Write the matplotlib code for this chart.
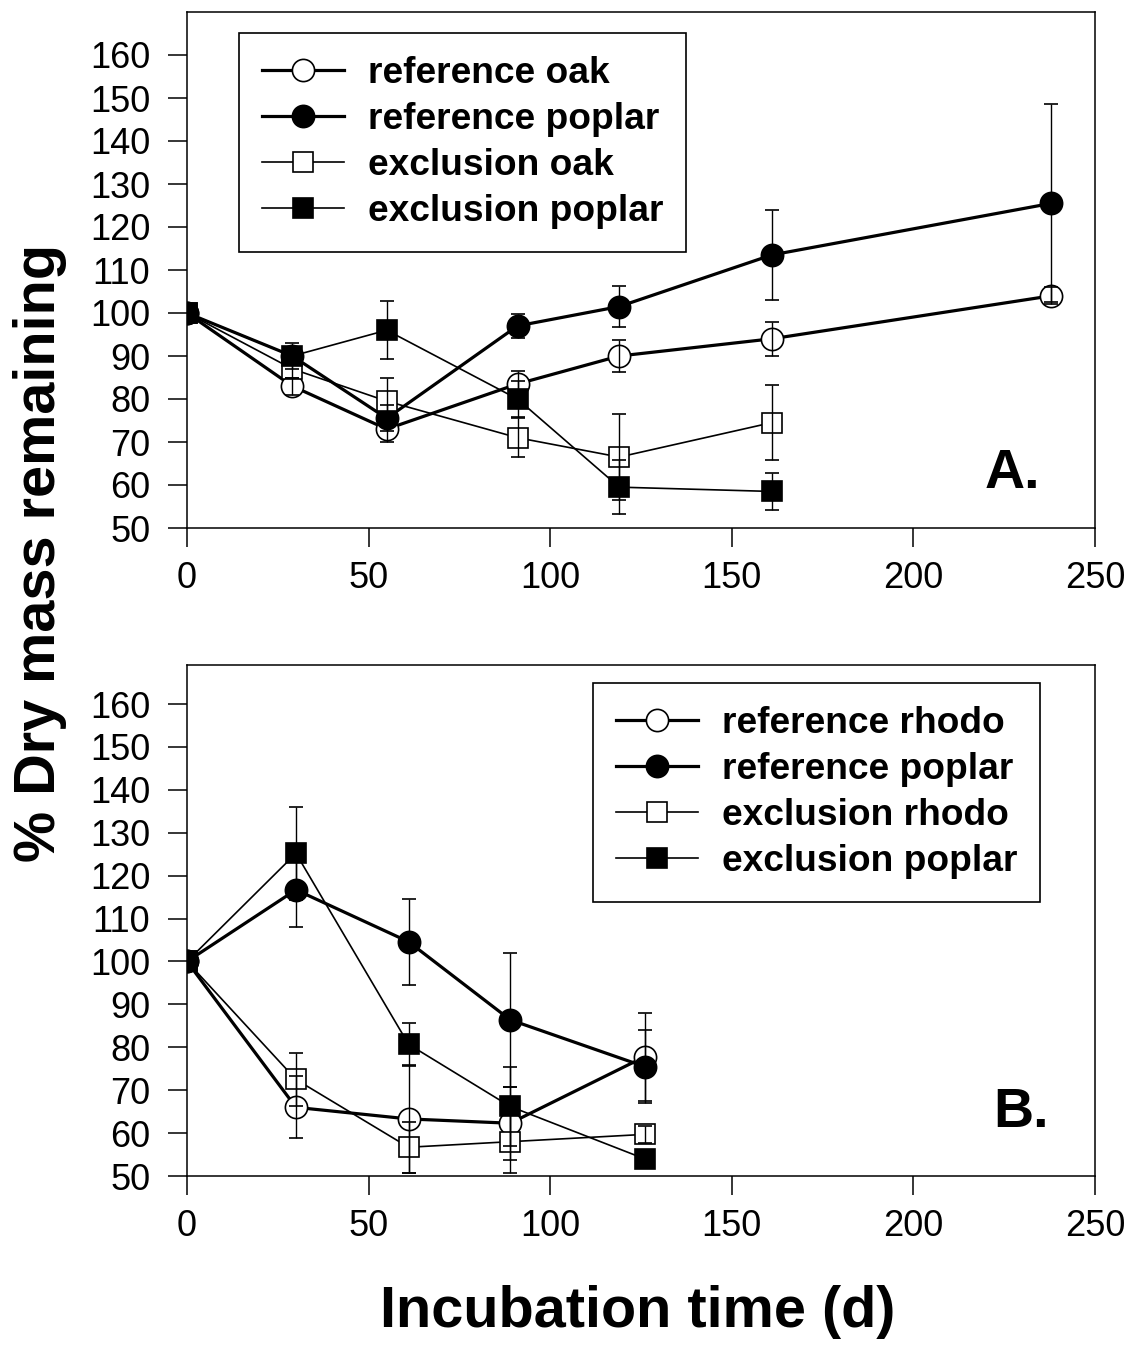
import numpy as np
import matplotlib
matplotlib.use("Agg")
import matplotlib.pyplot as plt

plt.rcParams['font.family'] = ['Liberation Sans', 'DejaVu Sans']

# ---- Panel A: oak vs poplar litter ----
days_a_ref = [0, 29, 55, 91, 119, 161, 238]
ref_oak = [100, 83, 73, 83.5, 90, 94, 104]
ref_oak_err = [0, 2, 3, 3, 3.7, 4, 2]
ref_poplar_a = [100, 90, 75.5, 97, 101.5, 113.5, 125.5]
ref_poplar_a_err = [0, 3, 3, 2.7, 4.7, 10.5, 23]

days_a_excl = [0, 29, 55, 91, 119, 161]
excl_oak = [100, 87, 79.5, 71, 66.5, 74.5]
excl_oak_err = [0, 2, 5.3, 4.5, 10, 8.8]
excl_poplar_a = [100, 90, 96, 80, 59.5, 58.5]
excl_poplar_a_err = [0, 2, 6.8, 4.2, 6.3, 4.2]

labels_a = ["reference oak", "reference poplar", "exclusion oak", "exclusion poplar"]

# ---- Panel B: rhododendron vs poplar litter ----
days_b = [0, 30, 61, 89, 126]
ref_rhodo = [100, 66, 63.3, 62.3, 77.8]
ref_rhodo_err = [0, 7.2, 12.5, 8.5, 10.3]
ref_poplar_b = [100, 116.7, 104.6, 86.4, 75.5]
ref_poplar_b_err = [0, 8.6, 10, 15.6, 8.5]
excl_rhodo = [100, 72.5, 56.7, 58, 59.7]
excl_rhodo_err = [0, 6.2, 6, 7.2, 2]
excl_poplar_b = [100, 125.2, 80.7, 66.2, 54]
excl_poplar_b_err = [0, 10.9, 5, 9.1, 2]

labels_b = ["reference rhodo", "reference poplar", "exclusion rhodo", "exclusion poplar"]

y_ticks = [50, 60, 70, 80, 90, 100, 110, 120, 130, 140, 150, 160]
x_ticks = [0, 50, 100, 150, 200, 250]

W, H = 1131, 1346
fig = plt.figure(figsize=(W / 100, H / 100), dpi=100)
fig.patch.set_facecolor("white")

axA = fig.add_axes([187 / W, 1 - 528 / H, 908 / W, 516 / H])
axB = fig.add_axes([187 / W, 1 - 1176 / H, 908 / W, 511 / H])

STYLES = [
    dict(marker="o", ms=16, mfc="white", lw=2.3),   # reference, open circle
    dict(marker="o", ms=16, mfc="black", lw=2.3),   # reference, filled circle
    dict(marker="s", ms=15, mfc="white", lw=1.2),   # exclusion, open square
    dict(marker="s", ms=15, mfc="black", lw=1.2),   # exclusion, filled square
]


def draw_panel(ax, series, labels, ymax):
    handles = []
    for i, ((x, y, e), st, lab) in enumerate(zip(series, STYLES, labels)):
        h, = ax.plot(x, y, color="black", marker=st["marker"], ms=st["ms"],
                     mfc=st["mfc"], mec="black", mew=1.2, lw=st["lw"],
                     label=lab, zorder=3 + i)
        handles.append(h)
    for x, y, e in series:
        x = np.asarray(x, float)
        y = np.asarray(y, float)
        e = np.asarray(e, float)
        keep = e > 0
        ax.errorbar(x[keep], y[keep], yerr=e[keep], fmt="none", ecolor="black",
                    elinewidth=1.0, capsize=5, capthick=1.2, zorder=10)
    ax.set_xlim(0, 250)
    ax.set_ylim(50, ymax)
    ax.set_xticks(x_ticks)
    ax.set_yticks(y_ticks)
    ax.tick_params(axis="both", direction="out", length=13.5, width=1.1,
                   labelsize=26, top=False, right=False)
    ax.tick_params(axis="y", pad=13)
    ax.tick_params(axis="x", pad=10)
    for sp in ax.spines.values():
        sp.set_linewidth(1.1)
        sp.set_color("black")
    return handles


hA = draw_panel(axA, [(days_a_ref, ref_oak, ref_oak_err),
                      (days_a_ref, ref_poplar_a, ref_poplar_a_err),
                      (days_a_excl, excl_oak, excl_oak_err),
                      (days_a_excl, excl_poplar_a, excl_poplar_a_err)],
                labels_a, 170)
hB = draw_panel(axB, [(days_b, ref_rhodo, ref_rhodo_err),
                      (days_b, ref_poplar_b, ref_poplar_b_err),
                      (days_b, excl_rhodo, excl_rhodo_err),
                      (days_b, excl_poplar_b, excl_poplar_b_err)],
                labels_b, 169.1)

legend_kw = dict(loc="upper left", bbox_transform=fig.transFigure, borderaxespad=0,
                 frameon=True, fancybox=False, shadow=False, numpoints=1,
                 prop=dict(size=26.7, weight="bold"), handlelength=2.2,
                 handletextpad=0.65, labelspacing=0.3, borderpad=0.62)
legA = axA.legend(handles=hA, bbox_to_anchor=(239 / W, 1 - 33 / H), **legend_kw)
legB = axB.legend(handles=hB, bbox_to_anchor=(593 / W, 1 - 683 / H), **legend_kw)
for leg in (legA, legB):
    fr = leg.get_frame()
    fr.set_edgecolor("black")
    fr.set_linewidth(1.2)
    fr.set_alpha(1)
    leg.set_zorder(20)

axA.text(219.7, 59.3, "A.", fontsize=40, fontweight="bold", ha="left", va="baseline")
axB.text(221.9, 61.5, "B.", fontsize=40, fontweight="bold", ha="left", va="baseline")

fig.text(40 / W, 1 - 553 / H, "% Dry mass remaining", rotation=90, ha="center",
         va="center", fontsize=41.5, fontweight="bold")
fig.text(638 / W, 1 - 1312 / H, "Incubation time (d)", ha="center", va="center",
         fontsize=41.5, fontweight="bold")

fig.savefig("out.png", dpi=100, facecolor="white")
